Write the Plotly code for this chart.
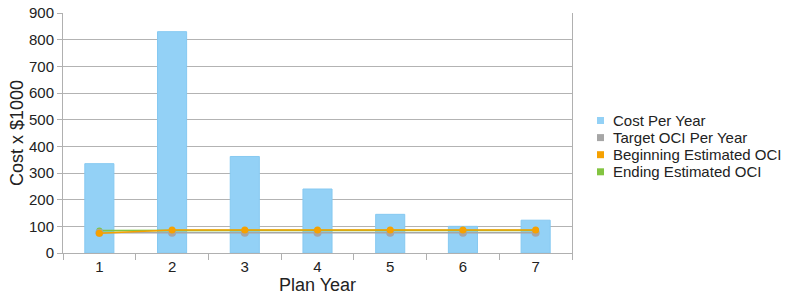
import plotly.graph_objects as go

years = ["1", "2", "3", "4", "5", "6", "7"]
cost_per_year = [335, 830, 362, 240, 145, 100, 123]
target_oci = [76, 76, 76, 76, 76, 76, 76]
beginning_oci = [74, 86, 86, 86, 86, 86, 86]
ending_oci = [84, 85, 85, 85, 85, 85, 85]

legend_names = ["Cost Per Year", "Target OCI Per Year",
                "Beginning Estimated OCI", "Ending Estimated OCI"]

FONT = "Liberation Sans, Arial, sans-serif"
C_BAR = "#93d1f6"
C_GRAY = "#a6a6a6"
C_ORANGE = "#f6a100"
C_GREEN = "#83c441"
legend_colors = [C_BAR, C_GRAY, C_ORANGE, C_GREEN]

# plot area in pixels
L, R, T, B = 63, 216, 13, 44
W, H = 788, 297
PW, PH = W - L - R, H - T - B


def px_x(px):
    return (px - L) / PW


def px_y(py):
    return (H - B - py) / PH


fig = go.Figure()
fig.add_trace(go.Bar(x=years, y=cost_per_year, name="Cost Per Year", width=0.4,
                     showlegend=False,
                     marker=dict(color=C_BAR, line=dict(color="#86c9f1", width=1))))

for name, vals, col, msize in [("Ending Estimated OCI", ending_oci, C_GREEN, 6),
                               ("Target OCI Per Year", target_oci, C_GRAY, 8),
                               ("Beginning Estimated OCI", beginning_oci, C_ORANGE, 7)]:
    fig.add_trace(go.Scatter(x=years, y=vals, mode="lines+markers", name=name,
                             showlegend=False,
                             line=dict(color=col, width=1.6),
                             marker=dict(color=col, size=msize)))

# manual legend (square swatches like the original)
shapes = []
annotations = []
for i, (name, col) in enumerate(zip(legend_names, legend_colors)):
    cy = 120.5 + i * 17.1
    shapes.append(dict(type="rect", xref="paper", yref="paper",
                       x0=px_x(597), x1=px_x(604), y0=px_y(cy + 3.5), y1=px_y(cy - 3.5),
                       fillcolor=col, line=dict(width=0)))
    annotations.append(dict(text=name, xref="paper", yref="paper", x=px_x(611),
                            y=px_y(cy), xanchor="left", yanchor="middle", showarrow=False,
                            font=dict(family=FONT, size=15, color="#222")))

fig.update_layout(
    width=W, height=H,
    margin=dict(l=L, r=R, t=T, b=B),
    paper_bgcolor="white", plot_bgcolor="white",
    barmode="overlay",
    font=dict(family=FONT, size=15, color="#222"),
    showlegend=False,
    shapes=shapes, annotations=annotations,
)
fig.update_xaxes(type="category", tickson="boundaries", ticks="outside", ticklen=6,
                 tickcolor="#b0b0b0", showgrid=False, showline=True, linecolor="#b0b0b0",
                 title=dict(text="Plan Year", standoff=3), tickfont=dict(size=15),
                 range=[-0.5, 6.5], automargin=False)
fig.update_yaxes(range=[0, 900], dtick=100, ticks="outside", ticklen=5, tickcolor="#b0b0b0",
                 showgrid=True, gridcolor="#b3b3b3", gridwidth=1,
                 showline=True, linecolor="#b0b0b0", mirror=True,
                 zeroline=False, title=dict(text="Cost x $1000", standoff=0),
                 tickfont=dict(size=15), automargin=False)

fig.write_html("out.html", config={"displayModeBar": False},
               post_script="document.body.style.margin='0';")
